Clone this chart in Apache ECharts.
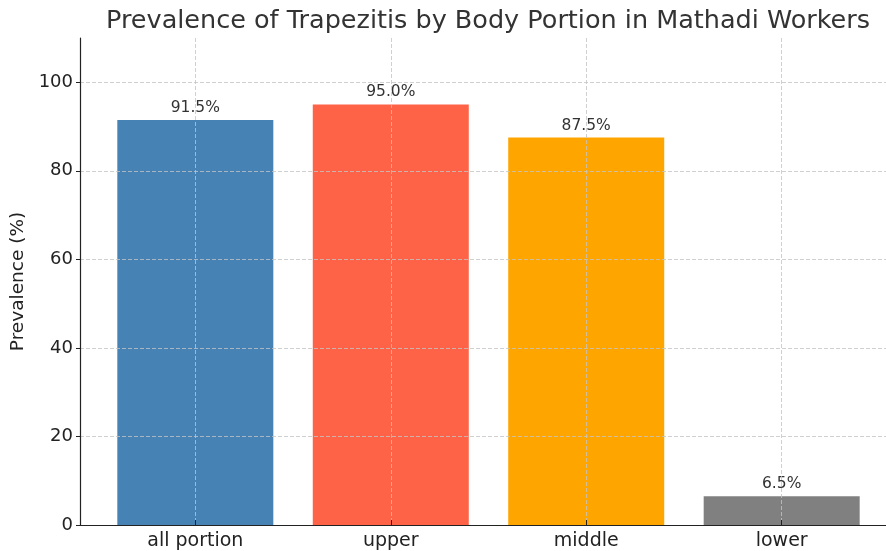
<!DOCTYPE html>
<html>
<head>
<meta charset="utf-8">
<script src="https://cdn.jsdelivr.net/npm/echarts@6/dist/echarts.min.js"></script>
<style>
  html, body { margin: 0; padding: 0; background: #fff; }
  #main { width: 886px; height: 551px; }
</style>
</head>
<body>
<div id="main"></div>
<script>
// 数据
var categories = ['all portion', 'upper', 'middle', 'lower'];
var prevalence = [91.5, 95.0, 87.5, 6.5];
var barColors = ['#4682B4', '#FF6347', '#FFA500', '#808080'];
var yTicks = [0, 20, 40, 60, 80, 100];
var xTicks = [0, 1, 2, 3];   // 类别位置

var FONT = 'DejaVu Sans';
var myChart = echarts.init(document.getElementById('main'));

var gridLine = { show: true, lineStyle: { color: '#c4c4c4', type: [4, 2], width: 0.8 } };

option = {
    animation: false,
    title: {
        text: 'Prevalence of Trapezitis by Body Portion in Mathadi Workers',
        left: 101,
        top: 3,
        textStyle: { fontFamily: FONT, fontSize: 25.5, fontWeight: 'normal', color: '#333333' }
    },
    grid: { left: 80, width: 817, top: 38, bottom: 26, outerBoundsMode: 'none' },
    xAxis: {
        type: 'value', min: -0.59, max: 3.59, z: 5,
        axisLine: { show: true, onZero: false, lineStyle: { color: '#222', width: 1.2 } },
        axisTick: { show: true, inside: true, length: 5, customValues: xTicks, lineStyle: { color: '#222' } },
        axisLabel: {
            fontFamily: FONT, fontSize: 19, color: '#222', margin: 7,
            customValues: xTicks,
            formatter: function (v) { return categories[Math.round(v)]; }
        },
        splitLine: gridLine
    },
    yAxis: {
        type: 'value', min: 0, max: 110, z: 5,
        name: 'Prevalence (%)', nameLocation: 'middle', nameGap: 45,
        nameTextStyle: { fontFamily: FONT, fontSize: 18.5, color: '#222' },
        axisLine: { show: true, onZero: false, lineStyle: { color: '#222', width: 1.2 } },
        axisTick: { show: true, length: 4, customValues: yTicks, lineStyle: { color: '#222' } },
        axisLabel: { fontFamily: FONT, fontSize: 18, color: '#222', margin: 7, customValues: yTicks },
        splitLine: gridLine
    },
    series: [
        {
            name: 'Prevalence',
            type: 'bar',
            z: 2,
            barWidth: 156,
            data: prevalence.map(function (v, i) {
                return { value: [xTicks[i], v], itemStyle: { color: barColors[i] } };
            }),
            label: {
                show: true, position: 'top', distance: 4,
                fontFamily: FONT, fontSize: 15.5, color: '#333',
                formatter: function (p) { return p.value[1].toFixed(1) + '%'; }
            }
        }
    ]
};

if (option && typeof option === "object") {
    myChart.setOption(option, true);
}
</script>
</body>
</html>
